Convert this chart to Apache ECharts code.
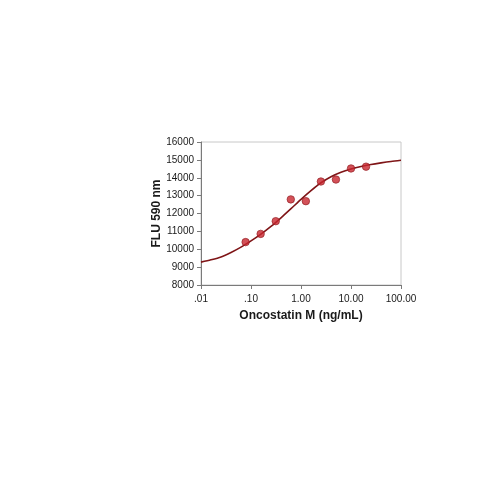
<!DOCTYPE html>
<html>
<head>
<meta charset="utf-8">
<script src="https://cdn.jsdelivr.net/npm/echarts@6/dist/echarts.min.js"></script>
<style>
html,body{margin:0;padding:0;background:#fff;}
#chart{width:500px;height:500px;}
</style>
</head>
<body>
<div id="chart"></div>
<script>
// Measured points
var doseX = [0.078, 0.156, 0.3125, 0.625, 1.25, 2.5, 5, 10, 20];
var fluY = [10400, 10860, 11570, 12790, 12690, 13790, 13900, 14520, 14620];
// Fitted curve
var curveX = [0.01, 0.0158, 0.0251, 0.0398, 0.0631, 0.1, 0.158, 0.251, 0.398, 0.631, 1, 1.585, 2.512, 3.981, 6.31, 10, 15.85, 25.12, 39.81, 63.1, 100];
var curveY = [9280, 9410, 9570, 9820, 10120, 10470, 10850, 11280, 11760, 12270, 12790, 13280, 13720, 14060, 14310, 14490, 14630, 14740, 14830, 14910, 14975];
// Tick labels
var xTickValues = [0.01, 0.1, 1, 10, 100];
var xTickLabels = ['.01', '.10', '1.00', '10.00', '100.00'];

var chart = echarts.init(document.getElementById('chart'));
var txt = '#1a1a1a';
var font = 'Liberation Sans';
chart.setOption({
  animation: false,
  backgroundColor: '#fff',
  grid: {left: 201, right: 99, top: 142, bottom: 215, show: true, borderColor: '#c8c8c8', borderWidth: 1, backgroundColor: 'transparent'},
  xAxis: {
    type: 'log', logBase: 10, min: 0.01, max: 100,
    name: 'Oncostatin M (ng/mL)', nameLocation: 'middle', nameGap: 25,
    nameTextStyle: {fontSize: 12, fontWeight: 'bold', color: txt, fontFamily: font},
    axisLine: {show: true, lineStyle: {color: '#7a7a7a', width: 1}},
    axisTick: {show: true, inside: false, length: 4, lineStyle: {color: '#7a7a7a'}},
    minorTick: {show: false},
    splitLine: {show: false},
    axisLabel: {
      fontSize: 10, color: txt, fontFamily: font, margin: 9, showMinLabel: true, showMaxLabel: true,
      formatter: function (v) {
        for (var i = 0; i < xTickValues.length; i++) {
          if (Math.abs(Math.log10(v) - Math.log10(xTickValues[i])) < 1e-6) return xTickLabels[i];
        }
        return '';
      }
    }
  },
  yAxis: {
    type: 'value', min: 8000, max: 16000, interval: 1000,
    name: 'FLU 590 nm', nameLocation: 'middle', nameGap: 35, nameRotate: 90,
    nameTextStyle: {fontSize: 12, fontWeight: 'bold', color: txt, fontFamily: font},
    axisLine: {show: true, lineStyle: {color: '#7a7a7a', width: 1}},
    axisTick: {show: true, inside: false, length: 4, lineStyle: {color: '#7a7a7a'}},
    splitLine: {show: false},
    axisLabel: {fontSize: 10, color: txt, fontFamily: font, margin: 7, formatter: function (v) { return String(v); }}
  },
  series: [
    {
      type: 'line', data: curveX.map(function (x, i) { return [x, curveY[i]]; }),
      smooth: 0.25, showSymbol: false, symbol: 'none',
      lineStyle: {color: '#7f1517', width: 1.6}, z: 2
    },
    {
      type: 'scatter', data: doseX.map(function (x, i) { return [x, fluY[i]]; }),
      symbol: 'circle', symbolSize: 7.5,
      itemStyle: {color: '#c8262e', borderColor: '#8e1a1f', borderWidth: 0.8}, z: 3
    }
  ]
});
</script>
</body>
</html>
